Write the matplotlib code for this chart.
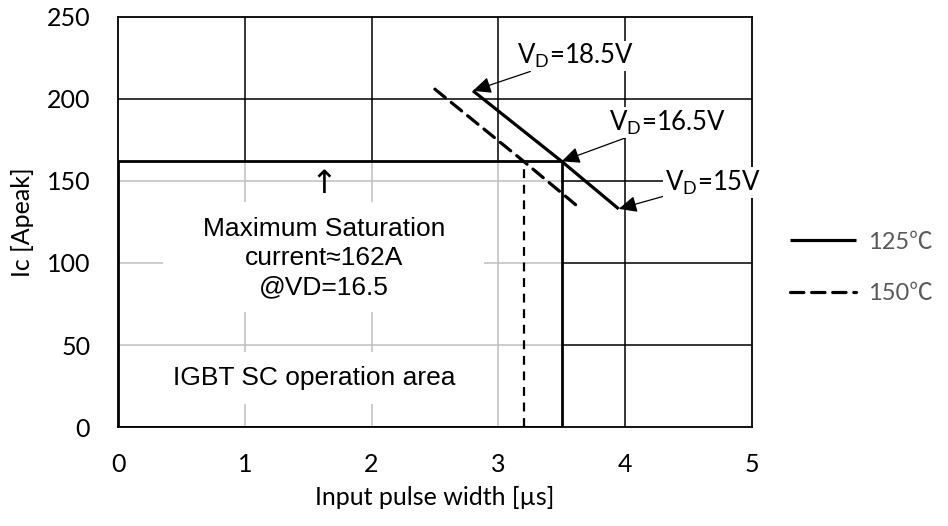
import matplotlib
matplotlib.use("Agg")
import matplotlib.pyplot as plt
from matplotlib.patches import Rectangle

# Datos
pulse_125 = [2.8, 3.5, 3.95]
ic_125 = [205, 162, 133]
pulse_150 = [2.5, 3.2, 3.65]
ic_150 = [206, 162, 133]
vd_labels = ["18.5", "16.5", "15"]
area_width = 3.5      # limite del area SC (125C)
area_width_150 = 3.2  # limite del area SC (150C)
sat_current = 162
x_ticks = [0, 1, 2, 3, 4, 5]
y_ticks = [0, 50, 100, 150, 200, 250]
series_names = ["125\u2103", "150\u2103"]

plt.rcParams["mathtext.default"] = "regular"
calibri = ["Lato", "Noto Sans CJK JP", "DejaVu Sans"]
arial = ["Liberation Sans", "DejaVu Sans"]

fig = plt.figure(figsize=(9.48, 5.26), dpi=100)
ax = fig.add_axes([0.1245, 0.1882, 0.6685, 0.7795])
ax.set_xlim(0, 5)
ax.set_ylim(0, 250)
ax.set_xticks(x_ticks)
ax.set_yticks(y_ticks)
ax.tick_params(length=0, labelsize=18)
ax.tick_params(axis="x", pad=19)
ax.tick_params(axis="y", pad=20)
for lab in ax.get_xticklabels() + ax.get_yticklabels():
    lab.set_family(calibri)
for s in ax.spines.values():
    s.set_linewidth(1.3)
    s.set_zorder(6)

# rejilla negra
for x in x_ticks[1:-1]:
    ax.axvline(x, color="black", lw=1.1, zorder=0.5)
for y in y_ticks[1:-1]:
    ax.axhline(y, color="black", lw=1.1, zorder=0.5)

# area de operacion SC: fondo blanco con rejilla gris
ax.add_patch(Rectangle((0, 0), area_width, sat_current, facecolor="white", edgecolor="none", zorder=1))
for x in x_ticks[1:-1]:
    if x < area_width:
        ax.plot([x, x], [0, sat_current], color="#bfbfbf", lw=1.1, zorder=1.5)
for y in y_ticks[1:-1]:
    if y < sat_current:
        ax.plot([0, area_width], [y, y], color="#bfbfbf", lw=1.1, zorder=1.5)
ax.add_patch(Rectangle((0, 0), area_width, sat_current, facecolor="none", edgecolor="black", lw=2, zorder=3))
ax.plot([area_width_150, area_width_150], [0, sat_current], color="black", lw=1.6,
        dashes=(4, 3), zorder=3)

# textos del area
ax.add_patch(Rectangle((0.355, 70), 2.53, 67, facecolor="white", edgecolor="none", zorder=2))
ax.text(1.625, 103, "Maximum Saturation\ncurrent\u2248%dA\n@VD=16.5" % sat_current,
        ha="center", va="center", fontsize=19, family=arial, linespacing=1.27, zorder=2.5)
ax.text(1.625, 148, "\u2191", ha="center", va="center", fontsize=23, family="DejaVu Sans", zorder=2.5)
ax.text(1.55, 30, "IGBT SC operation area", ha="center", va="center", fontsize=19, family=arial,
        bbox=dict(facecolor="white", edgecolor="none", pad=10), zorder=2.5)

# curvas
ax.plot(pulse_125, ic_125, color="black", lw=2.3, solid_capstyle="butt", zorder=4, label=series_names[0])
ax.plot(pulse_150, ic_150, color="black", lw=2.3, dashes=(4.2, 2.4), dash_capstyle="round",
        zorder=4, label=series_names[1])

# etiquetas V_D
offsets = [(32, 25), (34, 28), (33, 19)]
for px, py, vd, off in zip(pulse_125, ic_125, vd_labels, offsets):
    ax.annotate("V$_{D}$=%sV" % vd, xy=(px, py), xytext=off, textcoords="offset points",
                ha="left", va="center", fontsize=18.5, family=calibri,
                bbox=dict(facecolor="white", edgecolor="none", pad=1),
                arrowprops=dict(arrowstyle="-|>,head_length=0.55,head_width=0.25", color="black",
                                lw=0.9, mutation_scale=20, shrinkA=0, shrinkB=0),
                zorder=7, annotation_clip=False)

ax.set_xlabel("Input pulse width [\u00b5s]", fontsize=18, family=calibri, va="center")
ax.xaxis.set_label_coords(0.5, -0.171)
ax.set_ylabel("Ic [Apeak]", fontsize=18, family=calibri, va="center")
ax.yaxis.set_label_coords(-0.151, 0.5)

leg = fig.legend(loc="center left", bbox_to_anchor=(0.8333, 0.4905), frameon=False,
                 prop={"family": calibri, "size": 17}, handlelength=2.8, handletextpad=0.5,
                 labelspacing=1.3, borderpad=0, borderaxespad=0)
for t in leg.get_texts():
    t.set_color("#595959")

fig.savefig("out.png", dpi=100)
